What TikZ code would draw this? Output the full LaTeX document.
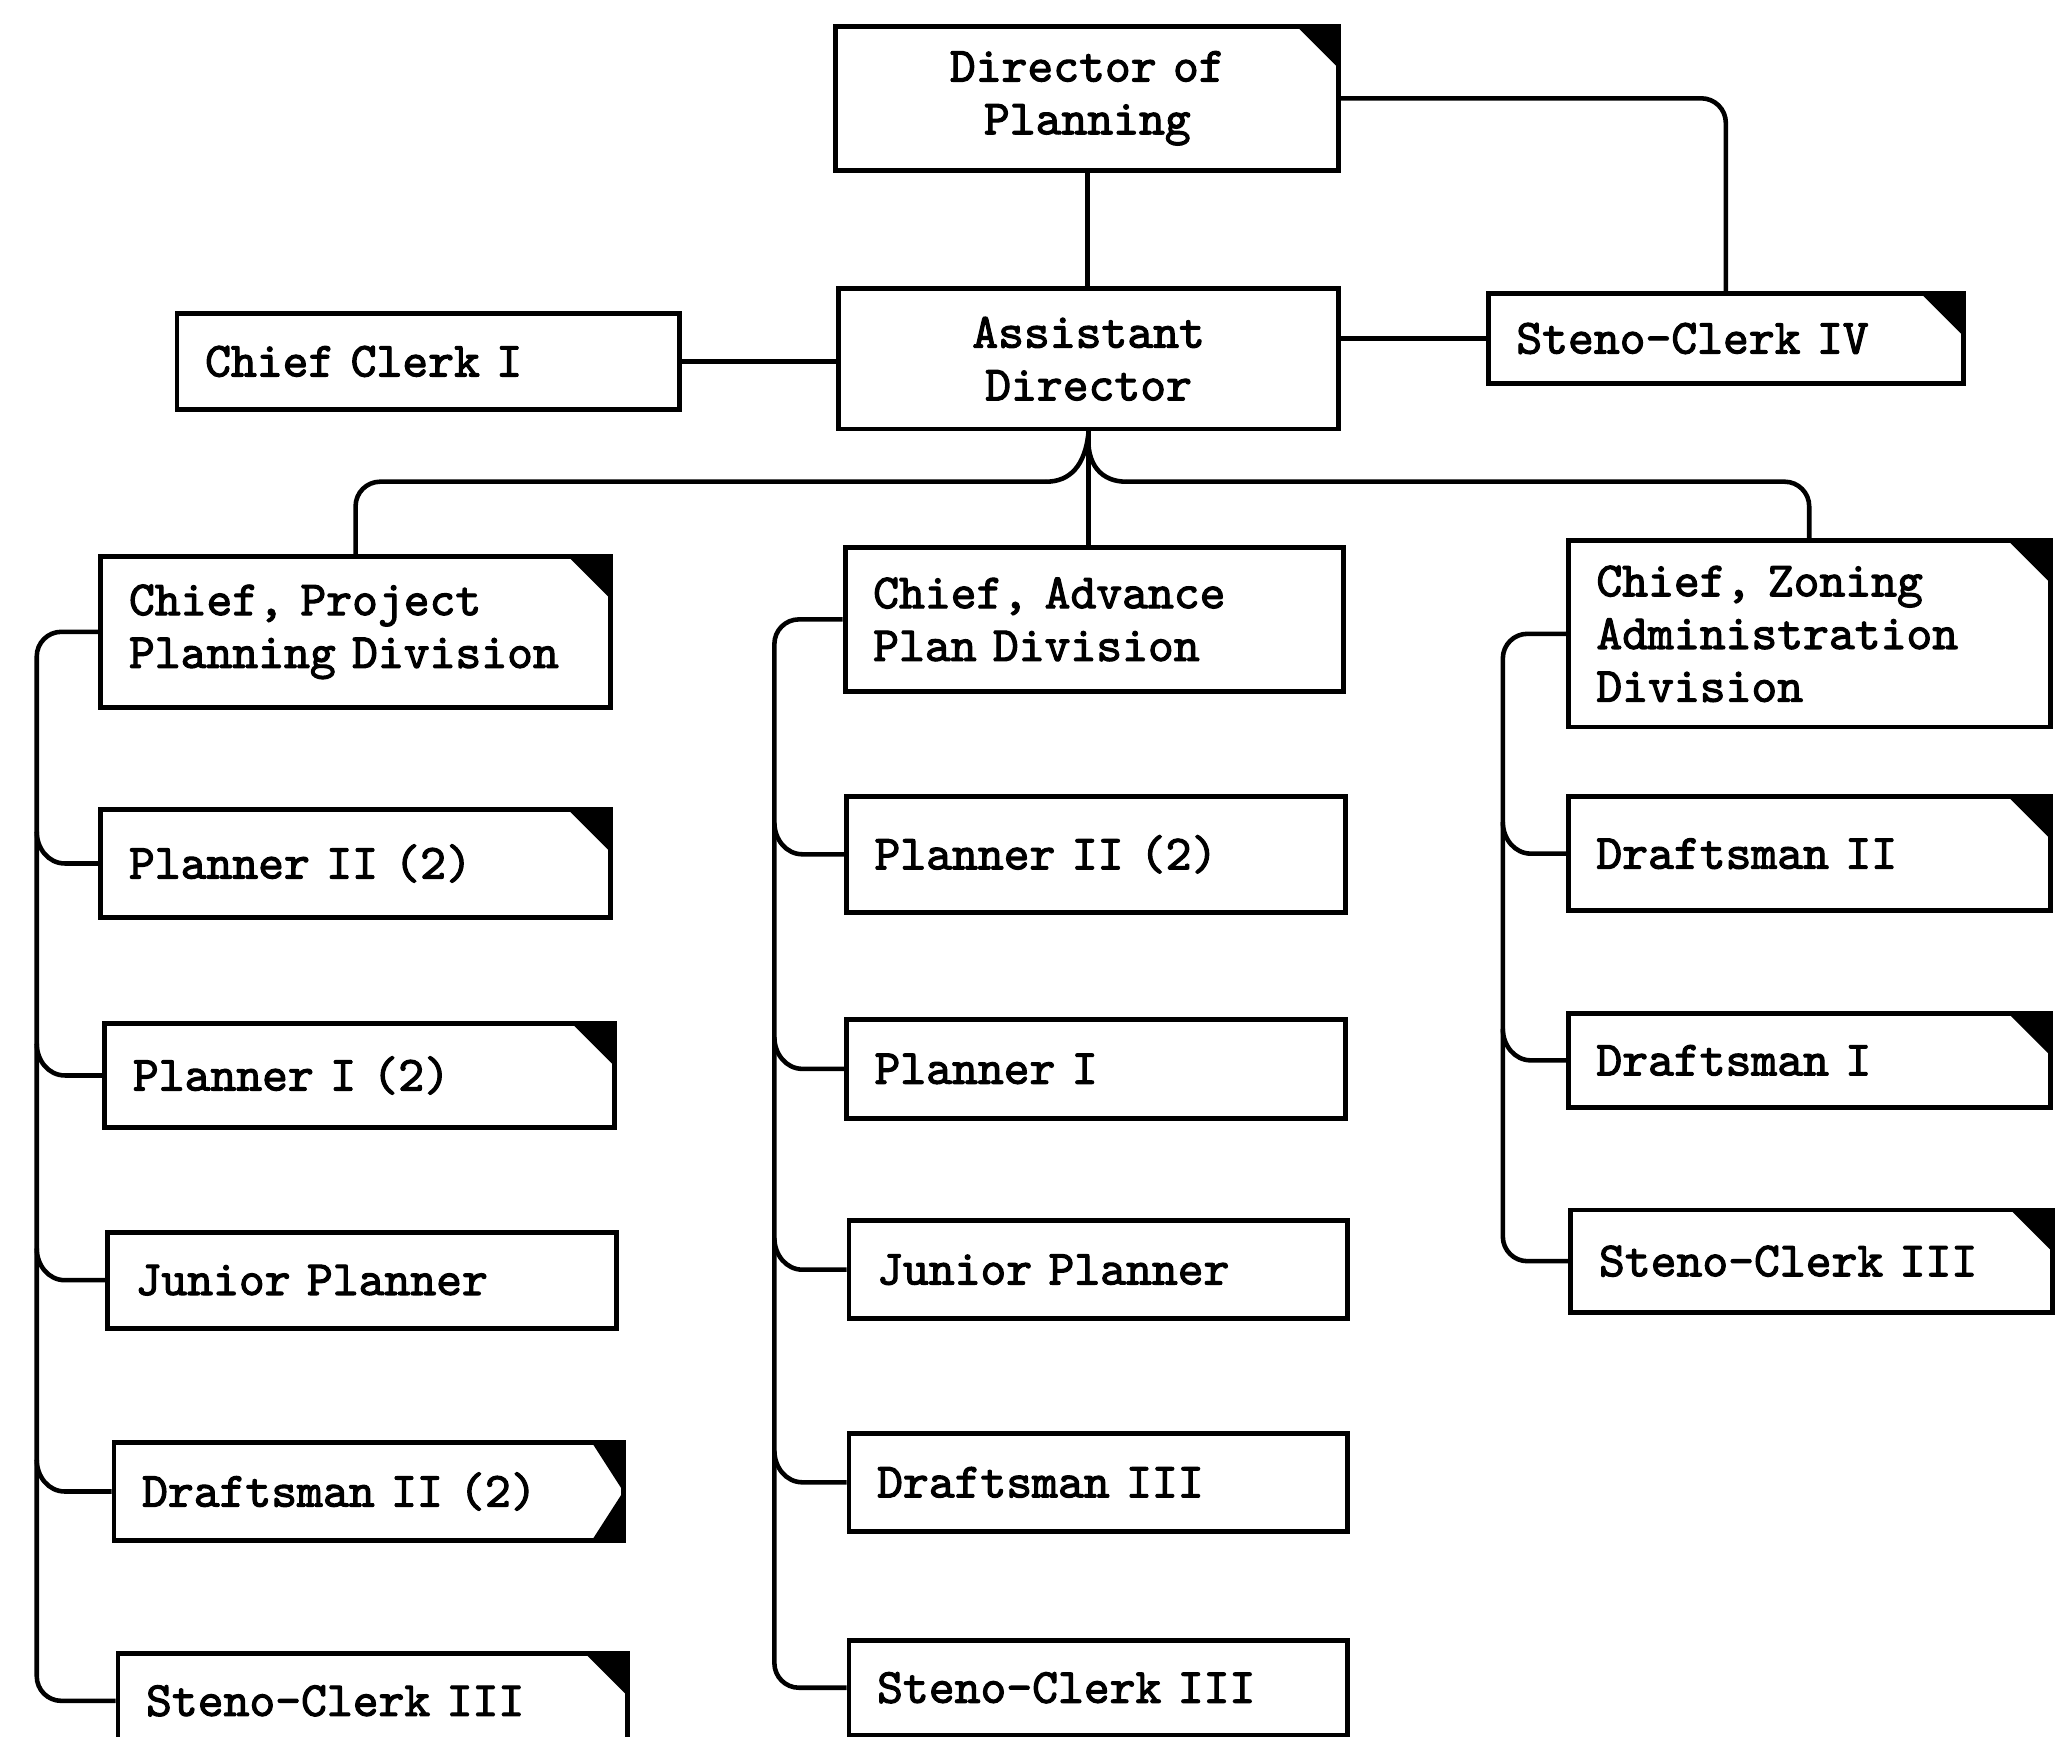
\documentclass[tikz,border=0pt]{standalone}
\usepackage{fontspec}
\newfontfamily\octype{lmmono10-regular}[Extension=.otf, FakeBold=2.2]
\usetikzlibrary{calc}
\tikzset{
  ocbox/.style={draw, line width=1.4pt, fill=white, anchor=north west,
                inner xsep=8pt, inner ysep=2pt, align=left,
                font=\octype\frenchspacing\fontsize{14}{15}\selectfont},
  occentre/.style={ocbox, align=center},
  ocprj/.style={ocbox, text width=4.53cm},
  ocadv/.style={ocbox, text width=4.425cm},
  oczon/.style={ocbox, text width=4.255cm},
  octab/.style={path picture={
      \fill[black] ([xshift=-12pt]path picture bounding box.north east)
        -- (path picture bounding box.north east)
        -- ([yshift=-12pt]path picture bounding box.north east) -- cycle;}},
  occhevron/.style={path picture={
      \fill[black] ([xshift=-9pt]path picture bounding box.north east)
        -- (path picture bounding box.north east)
        -- (path picture bounding box.east) -- cycle;
      \fill[black] ([xshift=-9pt]path picture bounding box.south east)
        -- (path picture bounding box.south east)
        -- (path picture bounding box.east) -- cycle;}},
  oclink/.style={draw, line width=1.3pt}
}

\begin{document}
\begin{tikzpicture}[x=0.013125cm, y=-0.013125cm]
  \useasboundingbox (0,0) rectangle (1568,1323);

  \node[occentre, octab, text width=4.465cm, minimum height=1.444cm] (dir)
    at (635,18) {Director of\\Planning};
  \node[occentre, text width=4.438cm, minimum height=1.404cm] (ad)
    at (637,218) {Assistant\\Director};
  \node[ocbox, text width=4.465cm, minimum height=0.958cm] (cc1)
    at (133,237) {Chief Clerk I};
  \node[ocbox, octab, text width=4.189cm, minimum height=0.8925cm] (sc4)
    at (1132,222) {Steno-Clerk IV};

  \node[ocprj, octab, minimum height=1.509cm] (cpp) at (75,422)
    {Chief, Project\\Planning Division};
  \node[ocprj, octab, minimum height=1.076cm] (p2a) at (75,615) {Planner II (2)};
  \node[ocprj, octab, minimum height=1.037cm] (p1a) at (78,778) {Planner I (2)};
  \node[ocprj, minimum height=0.958cm] (jpa) at (80,937) {Junior Planner};
  \node[ocprj, occhevron, minimum height=0.984cm] (d2a) at (85,1097) {Draftsman II (2)};
  \node[ocprj, octab, minimum height=0.945cm] (sca) at (88,1258) {Steno-Clerk III};

  \node[ocadv, minimum height=1.444cm] (cap) at (642,415)
    {Chief, Advance\\Plan Division};
  \node[ocadv, minimum height=1.155cm] (p2b) at (643,605) {Planner II (2)};
  \node[ocadv, minimum height=0.984cm] (p1b) at (643,775) {Planner I};
  \node[ocadv, minimum height=0.984cm] (jpb) at (645,928) {Junior Planner};
  \node[ocadv, minimum height=0.984cm] (d3b) at (645,1090) {Draftsman III};
  \node[ocadv, minimum height=0.945cm] (scb) at (645,1248) {Steno-Clerk III};

  \node[oczon, octab, minimum height=1.864cm] (cza) at (1193,410)
    {Chief, Zoning\\Administration\\Division};
  \node[oczon, octab, minimum height=1.142cm] (d2c) at (1193,605) {Draftsman II};
  \node[oczon, octab, minimum height=0.945cm] (d1c) at (1193,770) {Draftsman I};
  \node[oczon, octab, minimum height=1.024cm] (scc) at (1195,920) {Steno-Clerk III};

  \coordinate (hubL) at (797,367);
  \coordinate (hubR) at (858,367);
  \coordinate (trunkA) at (28,0);
  \coordinate (trunkB) at (590,0);
  \coordinate (trunkC) at (1145,0);

  \draw[oclink] (dir.south) -- (dir.south |- ad.north);
  \draw[oclink, rounded corners=7pt] (dir.east) -| (sc4.north);
  \draw[oclink] (cc1.east) -- (cc1.east -| ad.west);
  \draw[oclink] (sc4.west -| ad.east) -- (sc4.west);

  % the split below the assistant director
  \draw[oclink] (ad.south) .. controls (827,355) and (815,367) .. (hubL);
  \draw[oclink] (ad.south) .. controls (827,355) and (840,367) .. (hubR);
  \draw[oclink] (ad.south) -- (ad.south |- cap.north);
  \draw[oclink, rounded corners=7pt] (hubL) -- (hubL -| cpp.north) -- (cpp.north);
  \draw[oclink, rounded corners=7pt] (hubR) -- (hubR -| cza.north) -- (cza.north);

  \draw[oclink, rounded corners=7pt] (cpp.west) -- (trunkA |- cpp.west)
    -- (trunkA |- sca.west) -- (sca.west);
  \foreach \k in {p2a,p1a,jpa,d2a}
    \draw[oclink] ($(trunkA |- \k.west)+(0pt,9pt)$) to[out=-90,in=180]
      ($(trunkA |- \k.west)+(8pt,0pt)$) -- (\k.west);

  \draw[oclink, rounded corners=7pt] (cap.west) -- (trunkB |- cap.west)
    -- (trunkB |- scb.west) -- (scb.west);
  \foreach \k in {p2b,p1b,jpb,d3b}
    \draw[oclink] ($(trunkB |- \k.west)+(0pt,9pt)$) to[out=-90,in=180]
      ($(trunkB |- \k.west)+(8pt,0pt)$) -- (\k.west);

  \draw[oclink, rounded corners=7pt] (cza.west) -- (trunkC |- cza.west)
    -- (trunkC |- scc.west) -- (scc.west);
  \foreach \k in {d2c,d1c}
    \draw[oclink] ($(trunkC |- \k.west)+(0pt,9pt)$) to[out=-90,in=180]
      ($(trunkC |- \k.west)+(8pt,0pt)$) -- (\k.west);
\end{tikzpicture}
\end{document}
